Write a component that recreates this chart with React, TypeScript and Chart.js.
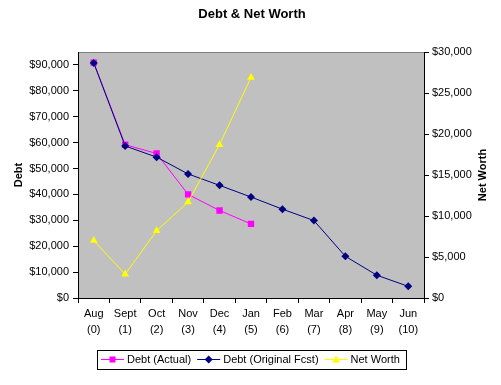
import React, { useEffect, useRef } from "react";
import { Chart, registerables } from "chart.js";

Chart.register(...registerables);

const categories: string[][] = [
  ["Aug", "(0)"], ["Sept", "(1)"], ["Oct", "(2)"], ["Nov", "(3)"], ["Dec", "(4)"],
  ["Jan", "(5)"], ["Feb", "(6)"], ["Mar", "(7)"], ["Apr", "(8)"], ["May", "(9)"], ["Jun", "(10)"],
];
const debtActual: (number | null)[] = [90900, 59200, 55800, 40000, 33800, 28600, null, null, null, null, null];
const debtForecast: number[] = [90800, 58700, 54400, 47900, 43500, 39000, 34300, 29900, 16100, 8800, 4500];
const netWorth: (number | null)[] = [7000, 2900, 8200, 11700, 18700, 26900, null, null, null, null, null];
const debtTicks: number[] = [0, 10000, 20000, 30000, 40000, 50000, 60000, 70000, 80000, 90000];

const chartTitle = "Debt & Net Worth";
const leftTitle = "Debt";
const rightTitle = "Net Worth";
const seriesNames = ["Debt (Actual)", "Debt (Original Fcst)", "Net Worth"];
const seriesColors = ["#FF00FF", "#000080", "#FFFF00"];
const seriesMarkers = ["square", "diamond", "triangle"];

const FONT = '"Liberation Sans", Arial, sans-serif';

function drawMarker(ctx: CanvasRenderingContext2D, kind: string, x: number, y: number, color: string) {
  ctx.save();
  ctx.fillStyle = color;
  ctx.strokeStyle = color;
  ctx.beginPath();
  if (kind === "square") {
    ctx.rect(x - 3, y - 3, 6, 6);
  } else if (kind === "diamond") {
    ctx.moveTo(x, y - 4);
    ctx.lineTo(x + 4, y);
    ctx.lineTo(x, y + 4);
    ctx.lineTo(x - 4, y);
    ctx.closePath();
  } else {
    ctx.moveTo(x, y - 4);
    ctx.lineTo(x + 4, y + 3);
    ctx.lineTo(x - 4, y + 3);
    ctx.closePath();
  }
  ctx.fill();
  ctx.restore();
}

const decorPlugin = {
  id: "decor",
  beforeDraw(chart: any) {
    const { ctx, chartArea: a } = chart;
    ctx.save();
    ctx.fillStyle = "#C0C0C0";
    ctx.fillRect(a.left, a.top, a.right - a.left, a.bottom - a.top);
    ctx.strokeStyle = "#808080";
    ctx.lineWidth = 1;
    ctx.beginPath();
    ctx.moveTo(a.left, Math.round(a.top) + 0.5);
    ctx.lineTo(a.right, Math.round(a.top) + 0.5);
    ctx.stroke();
    ctx.restore();
  },
  afterDraw(chart: any) {
    const { ctx, chartArea: a } = chart;
    ctx.save();
    ctx.fillStyle = "#000";
    ctx.font = `bold 13px ${FONT}`;
    ctx.textAlign = "center";
    ctx.textBaseline = "alphabetic";
    ctx.fillText(chartTitle, 252, 18);
    ctx.font = `bold 11px ${FONT}`;
    ctx.textBaseline = "middle";
    const cy = (a.top + a.bottom) / 2;
    ctx.save();
    ctx.translate(19, cy);
    ctx.rotate(-Math.PI / 2);
    ctx.fillText(leftTitle, 0, 0);
    ctx.restore();
    ctx.save();
    ctx.translate(483, cy);
    ctx.rotate(-Math.PI / 2);
    ctx.fillText(rightTitle, 0, 0);
    ctx.restore();
    ctx.font = `11px ${FONT}`;
    ctx.textAlign = "left";
    const ly = 359.5;
    let x = 101;
    for (let i = 0; i < seriesNames.length; i++) {
      ctx.strokeStyle = seriesColors[i];
      ctx.lineWidth = 1;
      ctx.beginPath();
      ctx.moveTo(x, ly);
      ctx.lineTo(x + 23, ly);
      ctx.stroke();
      drawMarker(ctx, seriesMarkers[i], x + 11.5, ly, seriesColors[i]);
      ctx.fillStyle = "#000";
      ctx.fillText(seriesNames[i], x + 26, ly);
      x += 26 + ctx.measureText(seriesNames[i]).width + 6;
    }
    ctx.strokeStyle = "#000";
    ctx.lineWidth = 1;
    ctx.strokeRect(97.5, 350.5, Math.round(x - 97), 19);
    ctx.restore();
  },
};

export default function App() {
  const ref = useRef<HTMLCanvasElement>(null);
  useEffect(() => {
    if (!ref.current) return;
    const money = (v: any) => "$" + Number(v).toLocaleString("en-US");
    const tickFont = { family: FONT, size: 11 };
    const chart = new Chart(ref.current, {
      type: "line",
      data: {
        labels: categories,
        datasets: [
          {
            label: seriesNames[0],
            data: debtActual,
            yAxisID: "y",
            borderColor: seriesColors[0],
            backgroundColor: seriesColors[0],
            borderWidth: 1,
            pointStyle: "rect",
            pointRadius: 4.5,
            pointBorderWidth: 0,
            order: 3,
          },
          {
            label: seriesNames[1],
            data: debtForecast,
            yAxisID: "y",
            borderColor: seriesColors[1],
            backgroundColor: seriesColors[1],
            borderWidth: 1,
            pointStyle: "rectRot",
            pointRadius: 4,
            pointBorderWidth: 0,
            order: 2,
          },
          {
            label: seriesNames[2],
            data: netWorth,
            yAxisID: "y1",
            borderColor: seriesColors[2],
            backgroundColor: seriesColors[2],
            borderWidth: 1,
            pointStyle: "triangle",
            pointRadius: 4.5,
            pointBorderWidth: 0,
            order: 1,
          },
        ],
      },
      options: {
        animation: false,
        responsive: false,
        devicePixelRatio: 1,
        layout: { padding: { top: 52, left: 0, right: 0, bottom: 0 } },
        plugins: {
          legend: { display: false },
          title: { display: false },
          tooltip: { enabled: false },
        },
        scales: {
          x: {
            offset: true,
            grid: { display: true, drawOnChartArea: false, offset: true, tickLength: 5, color: "#000" },
            border: { display: true, color: "#000" },
            ticks: { color: "#000", font: { ...tickFont, lineHeight: 1.45 }, padding: 3, maxRotation: 0, autoSkip: false },
            afterFit: (s: any) => { s.height = 87; },
          },
          y: {
            position: "left",
            min: 0,
            max: 95000,
            grid: { display: true, drawOnChartArea: false, tickLength: 5, color: "#000" },
            border: { display: true, color: "#000" },
            ticks: { color: "#000", font: tickFont, padding: 4, callback: money, autoSkip: false },
            afterBuildTicks: (s: any) => { s.ticks = debtTicks.map((v) => ({ value: v })); },
            afterFit: (s: any) => { s.width = 78; },
          },
          y1: {
            position: "right",
            min: 0,
            max: 30000,
            grid: { display: true, drawOnChartArea: false, tickLength: 5, color: "#000" },
            border: { display: true, color: "#000" },
            ticks: { stepSize: 5000, color: "#000", font: tickFont, padding: 3, callback: money },
            afterFit: (s: any) => { s.width = 77; },
          },
        },
      } as any,
      plugins: [decorPlugin],
    });
    return () => chart.destroy();
  }, []);
  return (
    <div style={{ position: "fixed", left: 0, top: 0, width: 501, height: 385, background: "#fff" }}>
      <canvas ref={ref} width={501} height={385} style={{ display: "block" }} />
    </div>
  );
}
